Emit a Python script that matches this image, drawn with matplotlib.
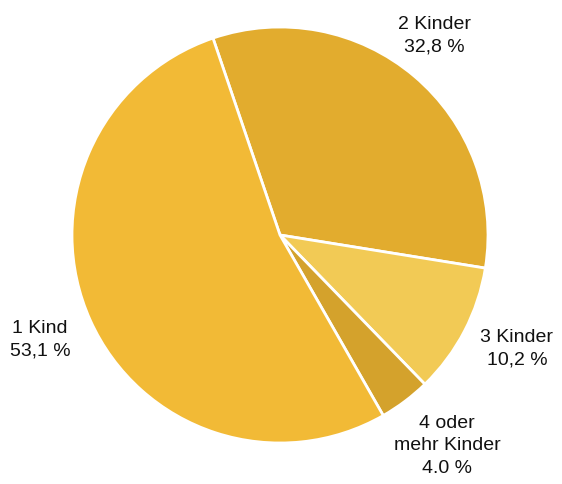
import matplotlib
matplotlib.use("Agg")
import matplotlib.pyplot as plt
from matplotlib import font_manager

categories = ["2 Kinder", "3 Kinder", "4 oder\nmehr Kinder", "1 Kind"]
values = [32.8, 10.2, 4.0, 53.1]
value_labels = ["32,8 %", "10,2 %", "4.0 %", "53,1 %"]
colors = ["#E2AC2E", "#F2CA55", "#D4A22C", "#F2BA36"]

names = {f.name for f in font_manager.fontManager.ttflist}
fam = [f for f in ["Liberation Sans Narrow", "Arial Narrow", "Liberation Sans", "DejaVu Sans"] if f in names]

fig = plt.figure(figsize=(5.62, 4.84), dpi=100)
ax = fig.add_axes([0, 0, 1, 1])
ax.pie(values, colors=colors, startangle=108.8, counterclock=False,
       center=(280, 249), radius=208,
       wedgeprops=dict(edgecolor="white", linewidth=2))
ax.set_xlim(0, 562)
ax.set_ylim(0, 484)
ax.set_aspect("equal")
ax.axis("off")

label_pos = [(434, 448), (517, 135), (447, 38), (40, 144)]
for cat, vl, (x, y) in zip(categories, value_labels, label_pos):
    ax.text(x, y, cat + "\n" + vl, ha="center", va="center", fontsize=14,
            family=fam, linespacing=1.45, color="#111111")

fig.savefig("out.png", dpi=100)
